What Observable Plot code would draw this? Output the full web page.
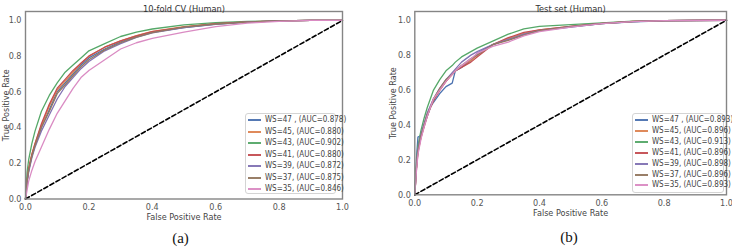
<!DOCTYPE html>
<html><head><meta charset="utf-8">
<script src="https://cdn.jsdelivr.net/npm/d3@7"></script>
<script src="https://cdn.jsdelivr.net/npm/@observablehq/plot@0.6"></script>
<style>
body{margin:0;background:#fff;}
#wrap{position:relative;width:732px;height:247px;overflow:hidden;font-family:"Liberation Sans Narrow","DejaVu Sans Condensed","DejaVu Sans",sans-serif;}
.panel{position:absolute;top:0;}
.legend{position:absolute;background:#fff;border:1px solid #d4d4d4;border-radius:3px;box-sizing:border-box;}
.row{position:absolute;font-size:8px;color:#444;white-space:nowrap;line-height:8px;transform:translateY(-50%);}
.swatch{position:absolute;height:2px;opacity:0.95;}
.cap{position:absolute;font-family:"Liberation Serif","DejaVu Serif",serif;font-size:15px;color:#111;transform:translate(-50%,-50%);line-height:15px;}
</style></head>
<body><div id="wrap"></div>
<script>
// ---------- data ----------
const seriesNames = ["WS=47 ,", "WS=45,", "WS=43,", "WS=41,", "WS=39,", "WS=37,", "WS=35,"];
const seriesColors = ["#4C72B0", "#DD8452", "#55A868", "#C44E52", "#8172B3", "#937860", "#DA8BC3"];
const aucCV = ["0.878", "0.880", "0.902", "0.880", "0.872", "0.875", "0.846"];
const aucTest = ["0.893", "0.896", "0.913", "0.896", "0.898", "0.896", "0.893"];
const titleCV = "10-fold CV (Human)";
const titleTest = "Test set (Human)";
const xLabel = "False Positive Rate";
const yLabel = "True Positive Rate";
const tickValues = [0, 0.2, 0.4, 0.6, 0.8, 1.0];
const chanceLine = [0, 1];

// 10-fold CV curves
const fprCV = [0, 0.005, 0.01, 0.02, 0.03, 0.05, 0.075, 0.1, 0.125, 0.15, 0.175, 0.2, 0.25, 0.3, 0.35, 0.4, 0.5, 0.6, 0.7, 0.8, 0.9, 1.0];
const tprCV47 = [0, 0.10, 0.16, 0.24, 0.30, 0.40, 0.50, 0.60, 0.65, 0.70, 0.75, 0.79, 0.84, 0.88, 0.910, 0.935, 0.960, 0.980, 0.990, 0.997, 1, 1];
const tprCV45 = [0, 0.11, 0.17, 0.25, 0.31, 0.41, 0.52, 0.61, 0.66, 0.71, 0.76, 0.80, 0.85, 0.885, 0.915, 0.938, 0.965, 0.982, 0.992, 0.998, 1, 1];
const tprCV43 = [0, 0.15, 0.22, 0.31, 0.38, 0.49, 0.58, 0.65, 0.71, 0.75, 0.79, 0.83, 0.87, 0.91, 0.935, 0.952, 0.975, 0.988, 0.995, 0.998, 1, 1];
const tprCV41 = [0, 0.10, 0.17, 0.25, 0.31, 0.42, 0.53, 0.62, 0.67, 0.72, 0.76, 0.80, 0.85, 0.885, 0.913, 0.937, 0.963, 0.982, 0.992, 0.998, 1, 1];
const tprCV39 = [0, 0.09, 0.15, 0.23, 0.29, 0.38, 0.47, 0.56, 0.63, 0.68, 0.73, 0.77, 0.83, 0.87, 0.905, 0.930, 0.960, 0.978, 0.990, 0.997, 1, 1];
const tprCV37 = [0, 0.10, 0.16, 0.24, 0.30, 0.40, 0.49, 0.59, 0.64, 0.69, 0.74, 0.78, 0.835, 0.875, 0.907, 0.932, 0.962, 0.980, 0.990, 0.997, 1, 1];
const tprCV35 = [0, 0.05, 0.10, 0.16, 0.21, 0.29, 0.39, 0.48, 0.55, 0.62, 0.68, 0.72, 0.78, 0.84, 0.875, 0.900, 0.935, 0.965, 0.985, 0.995, 1, 1];

// Test-set curves
const fprTest = [0, 0.005, 0.01, 0.02, 0.03, 0.04, 0.05, 0.06, 0.08, 0.1, 0.12, 0.13, 0.15, 0.18, 0.2, 0.25, 0.3, 0.35, 0.4, 0.5, 0.6, 0.7, 0.8, 1.0];
const tprTest47 = [0, 0.20, 0.33, 0.34, 0.40, 0.45, 0.50, 0.53, 0.58, 0.62, 0.64, 0.71, 0.73, 0.77, 0.81, 0.86, 0.89, 0.92, 0.94, 0.960, 0.980, 0.990, 0.997, 1];
const tprTest45 = [0, 0.15, 0.25, 0.33, 0.40, 0.46, 0.50, 0.54, 0.60, 0.65, 0.69, 0.71, 0.74, 0.77, 0.80, 0.86, 0.895, 0.925, 0.945, 0.965, 0.982, 0.993, 0.998, 1];
const tprTest43 = [0, 0.17, 0.28, 0.37, 0.44, 0.50, 0.55, 0.60, 0.66, 0.71, 0.74, 0.76, 0.79, 0.82, 0.84, 0.88, 0.92, 0.95, 0.965, 0.975, 0.985, 0.995, 0.998, 1];
const tprTest41 = [0, 0.14, 0.24, 0.33, 0.39, 0.45, 0.50, 0.54, 0.60, 0.65, 0.69, 0.71, 0.73, 0.76, 0.79, 0.86, 0.90, 0.93, 0.945, 0.965, 0.982, 0.993, 0.998, 1];
const tprTest39 = [0, 0.15, 0.26, 0.35, 0.41, 0.47, 0.51, 0.55, 0.61, 0.66, 0.70, 0.72, 0.76, 0.80, 0.82, 0.86, 0.89, 0.92, 0.94, 0.963, 0.980, 0.992, 0.998, 1];
const tprTest37 = [0, 0.15, 0.25, 0.34, 0.40, 0.46, 0.50, 0.55, 0.61, 0.66, 0.69, 0.71, 0.74, 0.78, 0.80, 0.86, 0.885, 0.915, 0.94, 0.963, 0.980, 0.992, 0.998, 1];
const tprTest35 = [0, 0.13, 0.23, 0.32, 0.39, 0.45, 0.50, 0.55, 0.60, 0.65, 0.69, 0.71, 0.74, 0.78, 0.81, 0.85, 0.875, 0.91, 0.935, 0.960, 0.980, 0.992, 0.998, 1];

const tprCVAll = [tprCV47, tprCV45, tprCV43, tprCV41, tprCV39, tprCV37, tprCV35];
const tprTestAll = [tprTest47, tprTest45, tprTest43, tprTest41, tprTest39, tprTest37, tprTest35];

// ---------- build ----------
const FONT = '"Liberation Sans Narrow","DejaVu Sans Condensed","DejaVu Sans",sans-serif';
const wrap = document.getElementById("wrap");

function buildRows(fpr, tprs) {
  const rows = [];
  tprs.forEach((t, s) => t.forEach((v, i) => rows.push({ws: seriesNames[s], fpr: fpr[i], tpr: v})));
  return rows;
}

function panel(cfg) {
  const rows = buildRows(cfg.fpr, cfg.tprs);
  const chart = Plot.plot({
    width: cfg.width, height: cfg.height,
    marginLeft: cfg.ml, marginRight: cfg.mr, marginTop: cfg.mt, marginBottom: cfg.mb,
    x: {domain: [0, 1]},
    y: {domain: [0, 1.05]},
    color: {domain: seriesNames, range: seriesColors},
    style: {fontFamily: FONT, fontSize: "9px", color: "#444", background: "transparent", overflow: "visible"},
    marks: [
      Plot.axisX({ticks: tickValues, tickSize: 0, tickPadding: cfg.xpad, tickFormat: d3.format(".1f"), label: null, fill: "#555"}),
      Plot.axisY({ticks: tickValues, tickSize: 0, tickPadding: 4, tickFormat: d3.format(".1f"), label: null, fill: "#555"}),
      Plot.line(rows, {x: "fpr", y: "tpr", z: "ws", stroke: "ws", strokeWidth: 1.3}),
      Plot.line(chanceLine, {x: d => d, y: d => d, stroke: "#000", strokeWidth: 1.6, strokeDasharray: "4.5,2.5"}),
      Plot.frame({stroke: "#858585", strokeWidth: 1.4}),
      Plot.text([cfg.title], {text: d => d, frameAnchor: "top", dy: cfg.tdy, fontSize: 9.2, fill: "#333"}),
      Plot.text([xLabel], {text: d => d, frameAnchor: "bottom", dy: cfg.xldy, fontSize: 9, fill: "#444"}),
      Plot.text([yLabel], {text: d => d, frameAnchor: "left", textAnchor: "middle", rotate: -90, dx: cfg.yldx, fontSize: 9, fill: "#444"})
    ]
  });
  const holder = document.createElement("div");
  holder.className = "panel";
  holder.style.left = cfg.left + "px";
  holder.appendChild(chart);
  wrap.appendChild(holder);

  // legend
  const lg = document.createElement("div");
  lg.className = "legend";
  Object.assign(lg.style, {left: cfg.lg.x + "px", top: cfg.lg.y + "px", width: cfg.lg.w + "px", height: cfg.lg.h + "px"});
  seriesNames.forEach((n, i) => {
    const cy = Math.round(cfg.lg.first + i * cfg.lg.step);
    const sw = document.createElement("div");
    sw.className = "swatch";
    Object.assign(sw.style, {left: "2px", width: "13px", top: (cy - 1) + "px", background: seriesColors[i]});
    const tx = document.createElement("div");
    tx.className = "row";
    Object.assign(tx.style, {left: "19px", top: cy + "px"});
    tx.textContent = `${n} (AUC=${cfg.auc[i]})`;
    lg.appendChild(sw); lg.appendChild(tx);
  });
  wrap.appendChild(lg);

  const cap = document.createElement("div");
  cap.className = "cap";
  Object.assign(cap.style, {left: cfg.cap[0] + "px", top: cfg.cap[1] + "px"});
  cap.textContent = cfg.capText;
  wrap.appendChild(cap);
}

panel({fpr: fprCV, tprs: tprCVAll, auc: aucCV, title: titleCV, capText: "(a)",
  left: 0, width: 366, height: 226, ml: 25, mr: 24, mt: 11, mb: 27.5, xpad: 5, tdy: -6, xldy: 20.5, yldx: -19.5,
  lg: {x: 245, y: 113, w: 91, h: 81, first: 6, step: 11.5}, cap: [180.5, 237.5]});

panel({fpr: fprTest, tprs: tprTestAll, auc: aucTest, title: titleTest, capText: "(b)",
  left: 366, width: 366, height: 226, ml: 48.3, mr: 6, mt: 11, mb: 31.7, xpad: 5, tdy: -6.5, xldy: 21.5, yldx: -21.5,
  lg: {x: 632, y: 113, w: 92, h: 80, first: 6, step: 10.9}, cap: [569, 236.5]});
</script>
</body></html>
